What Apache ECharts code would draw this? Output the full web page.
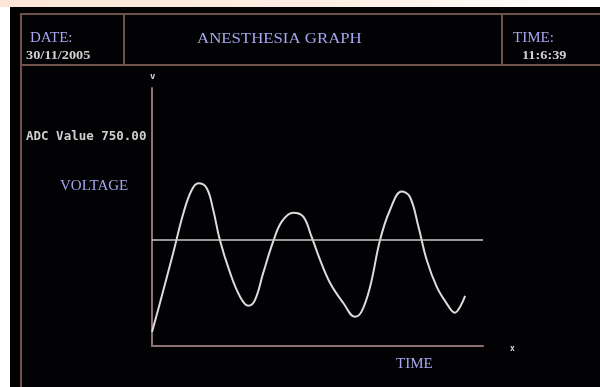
<!DOCTYPE html>
<html>
<head>
<meta charset="utf-8">
<script src="https://cdn.jsdelivr.net/npm/echarts@6/dist/echarts.min.js"></script>
<style>
html,body{margin:0;padding:0;background:#fff;}
#c{width:600px;height:387px;}
</style>
</head>
<body>
<div id="c"></div>
<script>
// Time (x) and ADC voltage (y) samples
var timeValues = [0, 2.4, 6.4, 9.5, 12.0, 14.0, 16.5, 18.5, 20.5, 23.6, 26.6, 29.1, 31.1, 33.6, 36.6, 39.2, 42.7, 45.7, 48.2, 50.8, 53.8, 57.8, 61.3, 63.3, 65.9, 68.9, 71.9, 75.4, 77.9, 80.5, 83.0, 86.0, 89.0, 91.5, 93.1, 94.6];
var voltageValues = [99, 304, 658, 941, 1104, 1151, 1118, 962, 750, 517, 349, 285, 325, 517, 738, 880, 943, 915, 773, 608, 446, 304, 207, 243, 420, 750, 962, 1092, 1056, 844, 608, 420, 302, 236, 278, 354];
var thresholdValue = 750;
var headerDate = '30/11/2005';
var headerTime = '11:6:39';

var chart = echarts.init(document.getElementById('c'), null, {renderer: 'canvas'});
var points = timeValues.map(function (t, i) { return [t, voltageValues[i]]; });
var borderColor = '#6e5249';
var blue = '#a6a6ee';
var serif = '"Liberation Serif", "DejaVu Serif", serif';
var mono = '"DejaVu Sans Mono", "Liberation Mono", monospace';

chart.setOption({
  backgroundColor: '#ffffff',
  animation: false,
  grid: {left: 152, top: 88, right: 117, bottom: 41},
  xAxis: {
    type: 'value', min: 0, max: 100,
    axisLine: {show: true, lineStyle: {color: '#8c7272', width: 2}},
    axisTick: {show: false}, axisLabel: {show: false}, splitLine: {show: false}
  },
  yAxis: {
    type: 'value', min: 0, max: 1825,
    axisLine: {show: true, lineStyle: {color: '#8c7272', width: 2}},
    axisTick: {show: false}, axisLabel: {show: false}, splitLine: {show: false}
  },
  graphic: [
    {type: 'rect', z: -10, shape: {x: 0, y: 0, width: 600, height: 7}, style: {fill: new echarts.graphic.LinearGradient(0, 0, 1, 0, [{offset: 0, color: '#fde6d6'}, {offset: 0.55, color: '#fdeee4'}, {offset: 1, color: '#ffffff'}])}},
    {type: 'rect', z: -9, shape: {x: 10, y: 7, width: 590, height: 380}, style: {fill: '#020104'}},
    {type: 'line', shape: {x1: 20, y1: 14, x2: 600, y2: 14}, style: {stroke: borderColor, lineWidth: 2}},
    {type: 'line', shape: {x1: 20, y1: 65, x2: 600, y2: 65}, style: {stroke: borderColor, lineWidth: 2}},
    {type: 'line', shape: {x1: 21, y1: 14, x2: 21, y2: 387}, style: {stroke: borderColor, lineWidth: 2}},
    {type: 'line', shape: {x1: 124, y1: 14, x2: 124, y2: 65}, style: {stroke: borderColor, lineWidth: 2}},
    {type: 'line', shape: {x1: 502, y1: 14, x2: 502, y2: 65}, style: {stroke: borderColor, lineWidth: 2}},
    {type: 'text', x: 30, y: 31, style: {text: 'DATE:', fill: blue, font: '15px ' + serif}},
    {type: 'text', x: 26, y: 49, scaleX: 1.1, style: {text: headerDate, fill: '#d0d0d0', font: 'bold 13px ' + serif}},
    {type: 'text', x: 197, y: 32, scaleX: 1.12, style: {text: 'ANESTHESIA GRAPH', fill: blue, font: '15px ' + serif}},
    {type: 'text', x: 513, y: 31, style: {text: 'TIME:', fill: blue, font: '15px ' + serif}},
    {type: 'text', x: 522, y: 49, scaleX: 1.1, style: {text: headerTime, fill: '#d0d0d0', font: 'bold 13px ' + serif}},
    {type: 'text', x: 150, y: 72, style: {text: 'v', fill: '#d8d8d8', font: 'bold 9px ' + mono}},
    {type: 'text', x: 510, y: 345, style: {text: 'x', fill: '#d8d8d8', font: 'bold 8px ' + mono}},
    {type: 'text', x: 26, y: 130, style: {text: 'ADC Value 750.00', fill: '#cfcfcf', font: 'bold 12.5px ' + mono}},
    {type: 'text', x: 60, y: 179, style: {text: 'VOLTAGE', fill: blue, font: '15px ' + serif}},
    {type: 'text', x: 396, y: 357, style: {text: 'TIME', fill: blue, font: '15px ' + serif}}
  ],
  series: [
    {
      type: 'line',
      data: points,
      smooth: 0.4,
      symbol: 'none',
      lineStyle: {color: '#dcdcdc', width: 2},
      markLine: {
        silent: true,
        symbol: ['none', 'none'],
        label: {show: false},
        lineStyle: {color: '#c8c8c8', width: 1.5, type: 'solid'},
        data: [{yAxis: thresholdValue}]
      }
    }
  ]
});
</script>
</body>
</html>
